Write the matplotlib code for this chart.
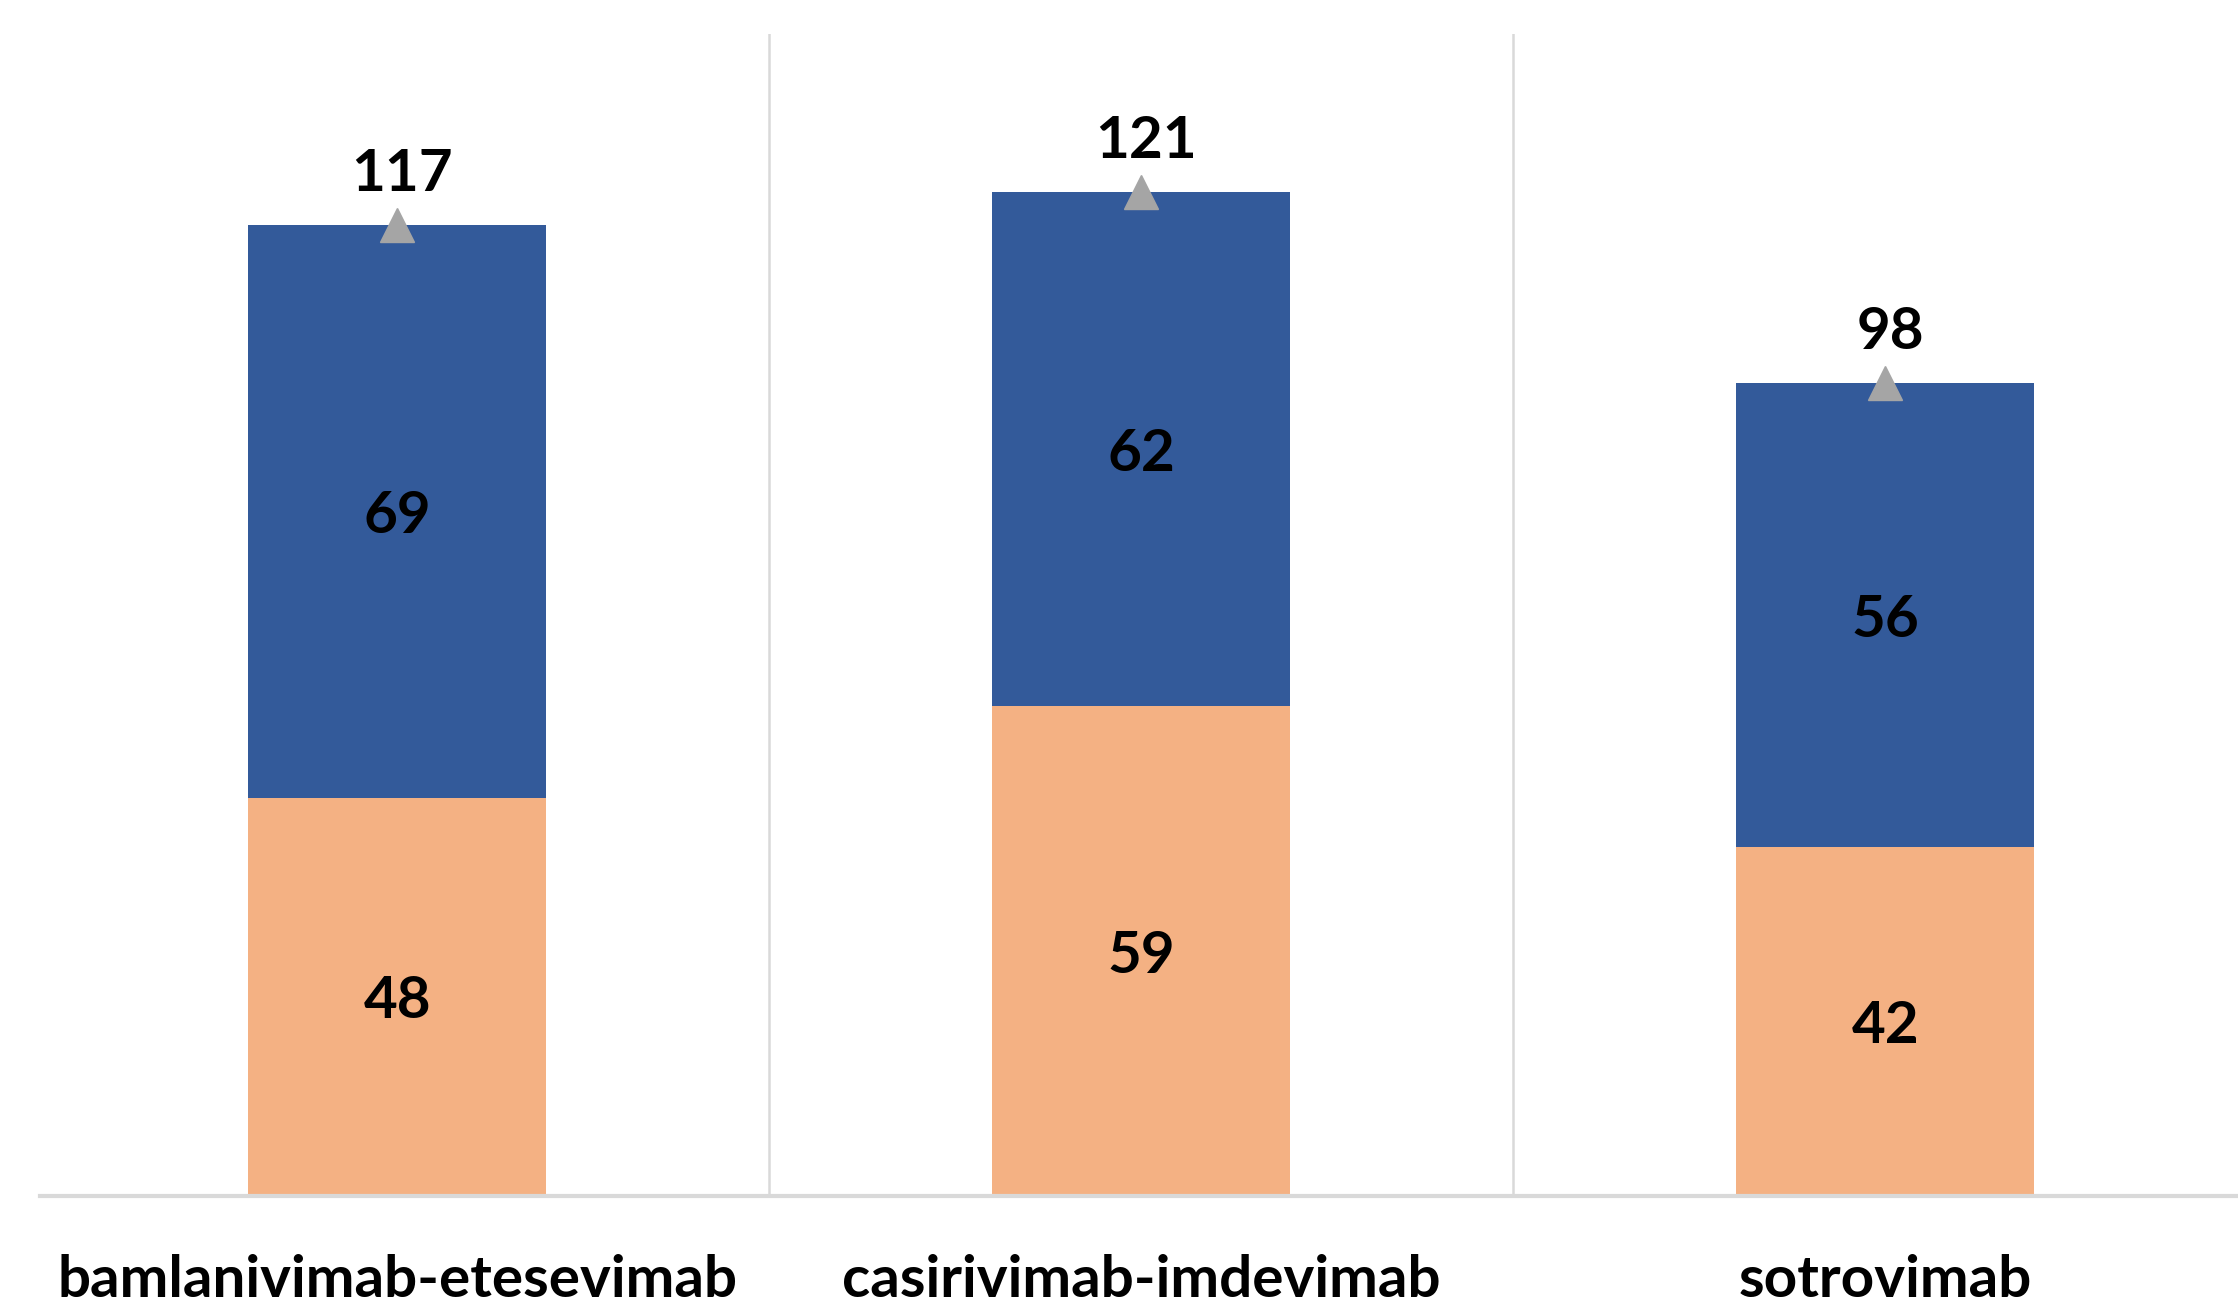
import matplotlib.pyplot as plt
from matplotlib import font_manager

drugs = ["bamlanivimab-etesevimab", "casirivimab-imdevimab", "sotrovimab"]
lower = [48, 59, 42]   # orange segment
upper = [69, 62, 56]   # blue segment
totals = [117, 121, 98]

orange = "#F4B183"
blue = "#335A9A"
grid_grey = "#D9D9D9"

installed = {f.name for f in font_manager.fontManager.ttflist}
num_font = ["Lato", "DejaVu Sans"] if "Lato" in installed else ["DejaVu Sans"]
cat_font = ["Liberation Sans Narrow", "DejaVu Sans"] if "Liberation Sans Narrow" in installed else num_font

W, H, dpi = 2238, 1303, 100
fig = plt.figure(figsize=(W / dpi, H / dpi), dpi=dpi)
ax = fig.add_axes([40 / W, 1 - 1196 / H, 1 - 40 / W, (1196 - 34) / H])

x = list(range(len(drugs)))
ax.bar(x, lower, width=0.4, color=orange, zorder=2)
ax.bar(x, upper, width=0.4, bottom=lower, color=blue, zorder=2)
ax.plot(x, totals, linestyle="none", marker="^", markersize=24,
        color="#A5A5A5", zorder=3)

# segment labels
for i in x:
    ax.text(i, lower[i] / 2, str(lower[i]), ha="center", va="center_baseline",
            fontsize=42, fontweight="bold", family=num_font, zorder=4)
    ax.text(i, lower[i] + upper[i] / 2, str(upper[i]), ha="center",
            va="center_baseline", fontsize=42, fontweight="bold",
            family=num_font, zorder=4)
    ax.annotate(str(totals[i]), xy=(i, totals[i]), xytext=(5, 34),
                textcoords="offset pixels", ha="center", va="baseline",
                fontsize=42, fontweight="bold", family=num_font, zorder=4)
    ax.annotate(drugs[i], xy=(i, 0), xycoords=("data", "axes fraction"),
                xytext=(0, -101), textcoords="offset pixels",
                ha="center", va="baseline", fontsize=42, fontweight="bold",
                family=cat_font, annotation_clip=False)

# category separators
for sep in [0.5, 1.5]:
    ax.axvline(sep, color=grid_grey, linewidth=1.8, zorder=1)

ax.set_xlim(-0.48, 2.474)
ax.set_ylim(0, 140)
for side in ["top", "right", "left"]:
    ax.spines[side].set_visible(False)
ax.spines["bottom"].set_color(grid_grey)
ax.spines["bottom"].set_linewidth(3)
ax.spines["bottom"].set_zorder(5)
ax.set_xticks([])
ax.set_yticks([])

fig.savefig("out.png", dpi=dpi)
